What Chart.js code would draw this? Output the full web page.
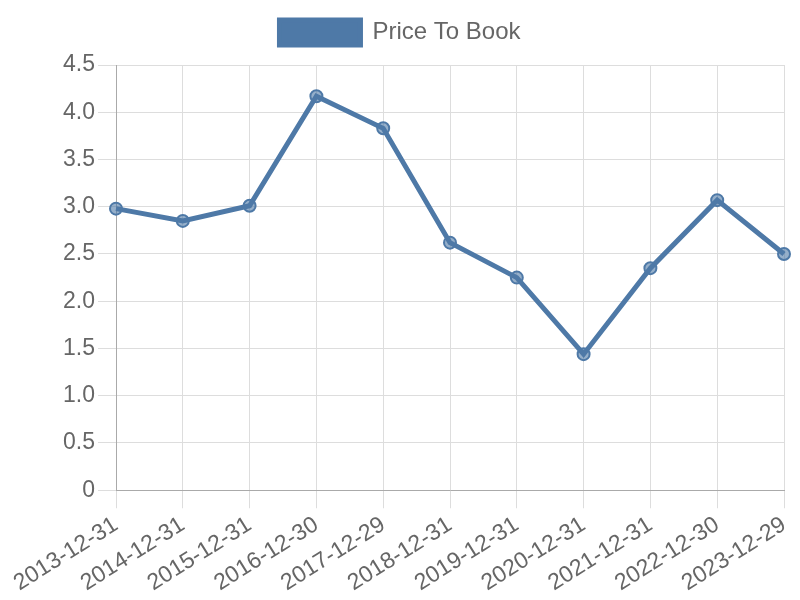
<!DOCTYPE html>
<html>
<head>
<meta charset="utf-8">
<script src="https://cdn.jsdelivr.net/npm/chart.js@4"></script>
<style>
  html, body { margin: 0; padding: 0; background: #fff; }
  #wrap { width: 800px; height: 600px; }
</style>
</head>
<body>
<div id="wrap"><canvas id="chart"></canvas></div>
<script>
const dates = ['2013-12-31', '2014-12-31', '2015-12-31', '2016-12-30', '2017-12-29', '2018-12-31',
               '2019-12-31', '2020-12-31', '2021-12-31', '2022-12-30', '2023-12-29'];
const priceToBook = [2.98, 2.85, 3.01, 4.17, 3.83, 2.62, 2.25, 1.44, 2.35, 3.07, 2.50];
const yTicks = [0, 0.5, 1.0, 1.5, 2.0, 2.5, 3.0, 3.5, 4.0, 4.5];

Chart.defaults.font.family = '"Liberation Sans", Arial, sans-serif';
Chart.defaults.color = '#666';

// extra room under the legend
const legendGap = {
  id: 'legendGap',
  beforeInit(chart) {
    const fit = chart.legend.fit;
    chart.legend.fit = function () {
      fit.bind(chart.legend)();
      this.height += 10;
    };
  }
};

const ctx = document.getElementById('chart').getContext('2d');
new Chart(ctx, {
  type: 'line',
  data: {
    labels: dates,
    datasets: [{
      label: 'Price To Book',
      data: priceToBook,
      borderColor: '#4e79a7',
      backgroundColor: '#4e79a7',
      pointBackgroundColor: 'rgba(78, 121, 167, 0.6)',
      pointBorderColor: '#4e79a7',
      pointRadius: 6,
      pointBorderWidth: 2,
      borderWidth: 5,
      tension: 0,
      fill: false
    }]
  },
  options: {
    responsive: true,
    maintainAspectRatio: false,
    animation: false,
    layout: { padding: { left: 0, right: 0, top: 10, bottom: 0 } },
    plugins: {
      legend: {
        labels: {
          boxWidth: 81,
          boxHeight: 25,
          font: { size: 24 },
          padding: 10
        }
      },
      tooltip: { enabled: false }
    },
    scales: {
      x: {
        grid: { color: '#ddd', tickLength: 18 },
        border: { color: '#aaa' },
        ticks: {
          font: { size: 23 },
          maxRotation: 32,
          minRotation: 32,
          autoSkip: false
        },
        afterFit: (axis) => { axis.paddingLeft = 0; axis.paddingRight = 16; }
      },
      y: {
        min: 0,
        max: 4.5,
        afterBuildTicks: (axis) => { axis.ticks = yTicks.map(v => ({ value: v })); },
        grid: { color: '#ddd', tickLength: 18 },
        border: { color: '#aaa' },
        ticks: {
          font: { size: 23 },
          callback: (v) => v === 0 ? '0' : v.toFixed(1)
        },
        afterFit: (axis) => { axis.width = 116; }
      }
    }
  },
  plugins: [legendGap]
});
</script>
</body>
</html>
